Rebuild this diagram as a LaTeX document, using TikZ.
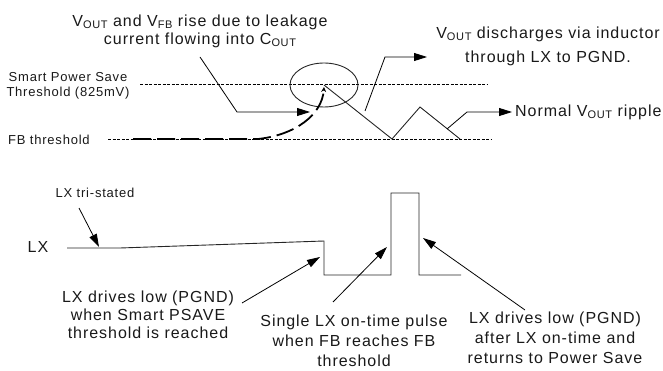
\documentclass[tikz,border=0pt]{standalone}
\usepackage{fontspec}
\setmainfont{Liberation Sans}[LetterSpace=6]
\usetikzlibrary{arrows.meta,shapes.geometric}
\newcommand\lowsub[1]{\raisebox{-0.3ex}{\fontsize{11}{11}\selectfont #1}}
\begin{document}
\begin{tikzpicture}[x=1pt,y=-1pt,
  wire/.style={line width=0.9pt, black!85},
  lead/.style={line width=0.8pt, black, -{Triangle[length=13pt,width=8pt]}},
  thr/.style={line width=0.9pt, dash pattern=on 3pt off 1.5pt},
  txt/.style={font=\fontsize{16}{#1}\selectfont, inner sep=0pt, align=center, text=black!90},
  txt/.default=18,
  smalltxt/.style={font=\fontsize{13}{15}\selectfont, inner sep=0pt, align=center, text=black!90}]
\useasboundingbox (0,0) rectangle (663,371);

% ---- upper section: thresholds ----
\node[smalltxt] (sps) at (68,85.5) {Smart Power Save\\Threshold (825mV)};
\node[smalltxt, anchor=west] (fbt) at (8,140) {FB threshold};
\coordinate (spsA) at (140,84);
\coordinate (spsB) at (488,84);
\coordinate (fbA) at (108,139);
\coordinate (fbB) at (491,139);
\draw[thr] (spsA) -- (spsB);
\draw[thr] (fbA) -- (fbB);

% circle marking the crossing
\node[draw, wire, ellipse, minimum width=68pt, minimum height=44pt, inner sep=0pt] (circ) at (324,85) {};

% ripple
\coordinate (r0) at (324,85);
\coordinate (r1) at (392,139);
\coordinate (r2) at (420,107);
\coordinate (r3) at (460,139);
\draw[wire] (r0) -- (r1) -- (r2) -- (r3);

% leakage rise (dashed)
\coordinate (d0) at (133,139);
\coordinate (d1) at (258,139);
\coordinate (d2) at (324,87);
\draw[line width=1.8pt, dash pattern=on 18pt off 6pt, -{Stealth[length=5pt,width=5pt]}]
  (d0) -- (d1) .. controls (295,135) and (322,115) .. (d2);

% labels
\node[txt=18] (leak) at (200,31) {V\lowsub{OUT} and V\lowsub{FB} rise due to leakage\\current flowing into C\lowsub{OUT}};
\coordinate (leakA) at (200,57);
\coordinate (leakB) at (237,112);
\coordinate (leakC) at (310,112);
\draw[lead] (leakA) -- (leakB) -- (leakC);

\node[txt=24] (dis) at (548,46) {V\lowsub{OUT} discharges via inductor\\through LX to PGND.};
\coordinate (disA) at (365,111);
\coordinate (disB) at (385,57);
\coordinate (disC) at (427,57);
\draw[lead] (disA) -- (disB) -- (disC);

\node[txt, anchor=west] (rip) at (515,112) {Normal V\lowsub{OUT} ripple};
\coordinate (ripA) at (447,129);
\coordinate (ripB) at (467,112);
\coordinate (ripC) at (512,112);
\draw[lead] (ripA) -- (ripB) -- (ripC);

% ---- lower section: LX ----
\node[txt] (lx) at (38,247) {LX};
\node[smalltxt] (tri) at (95,193) {LX tri-stated};
\coordinate (w0) at (67,248);
\coordinate (w1) at (120,248);
\coordinate (w2) at (324,241);
\coordinate (w3) at (324,275);
\coordinate (w4) at (391,275);
\coordinate (w5) at (391,193);
\coordinate (w6) at (419,193);
\coordinate (w7) at (419,275);
\coordinate (w8) at (461,275);
\draw[wire] (w0) -- (w1) -- (w2) -- (w3) -- (w4) -- (w5) -- (w6) -- (w7) -- (w8);

\coordinate (triA) at (79,208);
\coordinate (triB) at (99,247);
\draw[lead] (triA) -- (triB);

\node[txt=18] (low1) at (148,315) {LX drives low (PGND)\\when Smart PSAVE\\threshold is reached};
\coordinate (low1A) at (242,303);
\coordinate (low1B) at (320,257);
\draw[lead] (low1A) -- (low1B);

\node[txt=20] (pulse) at (354,341) {Single LX on-time pulse\\when FB reaches FB\\threshold};
\coordinate (pulseA) at (333,302);
\coordinate (pulseB) at (387,247);
\draw[lead] (pulseA) -- (pulseB);

\node[txt=20] (low2) at (555,338) {LX drives low (PGND)\\after LX on-time and\\returns to Power Save};
\coordinate (low2A) at (525,310);
\coordinate (low2B) at (423,238);
\draw[lead] (low2A) -- (low2B);
\end{tikzpicture}
\end{document}
